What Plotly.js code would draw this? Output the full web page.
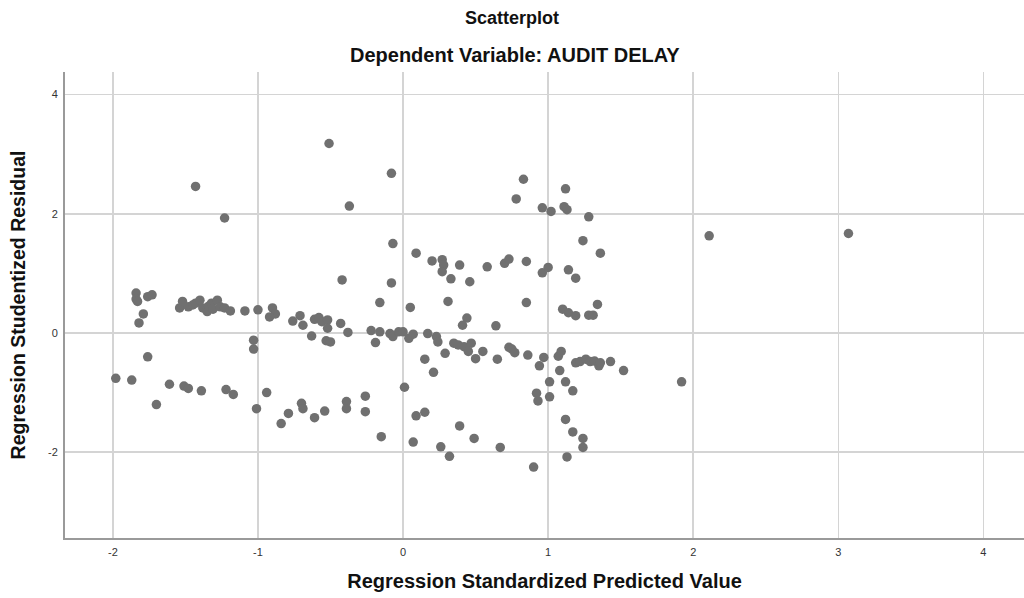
<!DOCTYPE html>
<html>
<head>
<meta charset="utf-8">
<script src="https://cdn.plot.ly/plotly-3.0.1.min.js"></script>
<style>html,body{margin:0;padding:0;background:#fff;}#chart{width:1024px;height:598px;}</style>
</head>
<body>
<div id="chart"></div>
<script>
// Regression Standardized Predicted Value
const predicted = [
  -1.84,-1.84,-1.83,-1.76,-1.73,-1.79,-1.82,
  -1.54,-1.52,-1.48,-1.45,-1.43,-1.40,-1.38,-1.35,-1.34,-1.32,-1.31,-1.28,-1.26,-1.23,-1.19,
  -1.76,-1.98,-1.87,-1.61,-1.51,-1.48,-1.39,-1.22,-1.17,-1.70,-1.43,-1.23,
  -1.09,-1.00,-1.03,-1.03,-1.01,-0.94,-0.90,-0.88,-0.92,
  -0.76,-0.71,-0.69,-0.61,-0.58,-0.56,-0.52,-0.52,-0.43,-0.63,-0.53,-0.50,-0.38,
  -0.22,-0.16,-0.19,-0.09,-0.07,-0.03,0.00,0.04,0.07,
  -0.84,-0.79,-0.70,-0.69,-0.61,-0.54,-0.39,-0.39,-0.26,-0.26,
  -0.15,0.01,0.09,0.07,
  -0.42,-0.08,-0.16,0.05,-0.51,-0.37,-0.08,-0.07,0.09,
  0.17,0.23,0.24,0.15,0.21,
  0.20,0.27,0.28,0.27,0.33,0.39,0.46,0.58,
  0.31,0.44,0.41,0.64,
  0.35,0.38,0.42,0.47,0.45,0.50,0.55,0.29,0.65,
  0.15,0.39,0.49,0.26,0.32,0.67,
  0.83,1.12,0.78,0.96,1.02,1.11,1.13,1.28,1.24,1.36,
  0.70,0.73,0.85,0.96,1.00,1.14,1.19,
  0.85,1.10,1.14,1.19,1.28,1.31,1.34,
  0.73,0.75,0.77,0.86,0.97,0.94,1.07,1.09,1.08,
  1.19,1.22,1.26,1.29,1.32,1.35,1.36,1.43,1.52,
  1.01,1.12,1.17,0.92,0.93,1.01,
  1.12,1.17,1.24,1.24,1.13,0.90,
  2.11,3.07,1.92
];
// Regression Studentized Residual
const residual = [
  0.67,0.57,0.53,0.61,0.64,0.32,0.17,
  0.42,0.53,0.44,0.47,0.50,0.55,0.42,0.36,0.45,0.50,0.40,0.55,0.44,0.42,0.37,
  -0.40,-0.76,-0.79,-0.86,-0.89,-0.93,-0.97,-0.95,-1.03,-1.20,2.46,1.93,
  0.37,0.39,-0.12,-0.27,-1.27,-1.00,0.42,0.32,0.27,
  0.20,0.29,0.13,0.23,0.26,0.19,0.22,0.08,0.16,-0.05,-0.13,-0.15,0.01,
  0.04,0.02,-0.16,-0.01,-0.06,0.02,0.02,-0.09,-0.02,
  -1.52,-1.35,-1.18,-1.27,-1.42,-1.31,-1.15,-1.27,-1.06,-1.32,
  -1.74,-0.91,-1.39,-1.83,
  0.89,0.84,0.51,0.43,3.18,2.13,2.68,1.50,1.34,
  -0.01,-0.06,-0.15,-0.44,-0.66,
  1.21,1.23,1.14,1.03,0.91,1.14,0.86,1.11,
  0.53,0.25,0.13,0.12,
  -0.17,-0.20,-0.23,-0.17,-0.31,-0.43,-0.31,-0.34,-0.44,
  -1.33,-1.56,-1.77,-1.91,-2.07,-1.92,
  2.58,2.42,2.25,2.10,2.04,2.12,2.07,1.95,1.55,1.34,
  1.17,1.24,1.20,1.01,1.10,1.06,0.92,
  0.51,0.40,0.34,0.29,0.30,0.30,0.48,
  -0.24,-0.27,-0.33,-0.37,-0.41,-0.55,-0.39,-0.31,-0.63,
  -0.50,-0.48,-0.44,-0.48,-0.47,-0.55,-0.50,-0.48,-0.63,
  -0.82,-0.82,-0.97,-1.01,-1.14,-1.07,
  -1.45,-1.66,-1.77,-1.92,-2.08,-2.25,
  1.63,1.67,-0.82
];
const xTicks = [-2,-1,0,1,2,3,4];
const yTicks = [-2,0,2,4];
const chartTitle = "Scatterplot";
const chartSubtitle = "Dependent Variable: AUDIT DELAY";
const xTitle = "Regression Standardized Predicted Value";
const yTitle = "Regression Studentized Residual";

const fontFam = "Liberation Sans, Arial, sans-serif";
const trace = {
  type: "scatter", mode: "markers", x: predicted, y: residual,
  marker: {color: "#707070", size: 9.5, line: {width: 0}},
  hoverinfo: "x+y"
};
const layout = {
  width: 1024, height: 598,
  margin: {l: 65, r: 0, t: 72, b: 60},
  paper_bgcolor: "#fff", plot_bgcolor: "#fff",
  showlegend: false,
  font: {family: fontFam, color: "#222"},
  xaxis: {
    range: [-2.33, 4.28], tickvals: xTicks, ticktext: xTicks.map(String),
    showgrid: true, gridcolor: "#d4d4d4", gridwidth: 1.5, zeroline: false,
    showline: true, linecolor: "#9a9a9a", linewidth: 2,
    ticks: "", tickfont: {size: 11, color: "#333", family: fontFam},
    ticklabelstandoff: 3,
    title: {text: xTitle, font: {size: 20, color: "#111", family: fontFam, weight: "bold"}, standoff: 17}
  },
  yaxis: {
    range: [-3.44, 4.38], tickvals: yTicks, ticktext: yTicks.map(String),
    showgrid: true, gridcolor: "#d4d4d4", gridwidth: 1.5, zeroline: false,
    showline: true, linecolor: "#9a9a9a", linewidth: 2,
    ticks: "", tickfont: {size: 11, color: "#333", family: fontFam},
    ticklabelstandoff: 3,
    title: {text: yTitle, font: {size: 19.5, color: "#111", family: fontFam, weight: "bold"}, standoff: 17}
  },
  annotations: [
    {text: "<b>" + chartTitle + "</b>", xref: "paper", yref: "paper", x: 0.5, y: 0,
     xanchor: "center", yanchor: "middle", showarrow: false, font: {size: 18, color: "#111", family: fontFam}},
    {text: "<b>" + chartSubtitle + "</b>", xref: "paper", yref: "paper", x: 0.5, y: 0,
     xanchor: "center", yanchor: "middle", showarrow: false, font: {size: 20, color: "#111", family: fontFam}}
  ]
};
// position the two header lines in paper coordinates of the figure
const plotH = 598 - 72 - 60;
layout.annotations[0].y = (598 - 60 - 18) / plotH;
layout.annotations[1].y = (598 - 60 - 55) / plotH;
layout.annotations[0].x = (512 - 65) / (1024 - 65);
layout.annotations[1].x = (515 - 65) / (1024 - 65);
Plotly.newPlot("chart", [trace], layout, {displayModeBar: false, staticPlot: true});
</script>
</body>
</html>
